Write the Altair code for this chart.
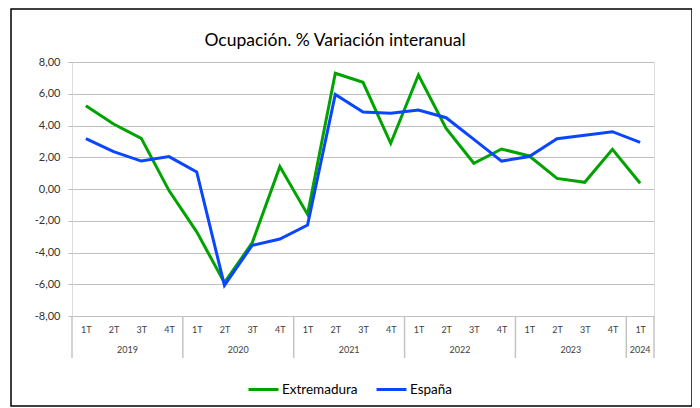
import json
import altair as alt
import pandas as pd

# ---- data ----
years = ["2019"] * 4 + ["2020"] * 4 + ["2021"] * 4 + ["2022"] * 4 + ["2023"] * 4 + ["2024"]
quarter_names = ["1T", "2T", "3T", "4T"]
quarters = (quarter_names * 6)[:21]
extremadura = [5.25, 4.09, 3.19, -0.10, -2.70, -5.90, -3.40, 1.41, -1.60, 7.29, 6.72,
               2.88, 7.18, 3.82, 1.62, 2.52, 2.08, 0.67, 0.42, 2.50, 0.36]
espana = [3.17, 2.35, 1.76, 2.04, 1.07, -6.07, -3.55, -3.15, -2.27, 5.96, 4.85,
          4.77, 4.98, 4.49, 3.13, 1.76, 2.05, 3.17, 3.38, 3.61, 2.94]
series_names = ["Extremadura", "España"]
series_colors = ["#00a300", "#0a46ff"]
y_ticks = [-8, -6, -4, -2, 0, 2, 4, 6, 8]
title_text = "Ocupación. % Variación interanual"

n = len(quarters)
rows = []
for i in range(n):
    rows.append({"pos": i + 0.5, "serie": series_names[0], "v": extremadura[i]})
    rows.append({"pos": i + 0.5, "serie": series_names[1], "v": espana[i]})
df = pd.DataFrame(rows)

# year labels and separators
year_order = []
for y in years:
    if y not in year_order:
        year_order.append(y)
year_rows = []
bounds = [0]
for y in year_order:
    idx = [i for i, yy in enumerate(years) if yy == y]
    year_rows.append({"year": y, "pos": (idx[0] + idx[-1] + 1) / 2})
    bounds.append(idx[-1] + 1)
df_years = pd.DataFrame(year_rows)
df_bounds = pd.DataFrame({"b": bounds})

W, H = 582, 254
FONT = "Lato"

xscale = alt.Scale(domain=[0, n], nice=False, zero=False)
yscale = alt.Scale(domain=[-8, 8], nice=False)
color = alt.Color("serie:N", scale=alt.Scale(domain=series_names, range=series_colors),
                  legend=alt.Legend(title=None, orient="none", direction="horizontal",
                                    legendX=175, legendY=311, symbolType="stroke",
                                    symbolSize=900, symbolStrokeWidth=3,
                                    labelFontSize=13.5, labelFont=FONT, labelColor="#000",
                                    labelOffset=2, columnPadding=12))

q_expr = json.dumps(quarter_names) + "[floor(datum.value) % 4]"

xaxis = alt.Axis(values=[i + 0.5 for i in range(n)], labelExpr=q_expr, title=None,
                 grid=False, ticks=False, domain=False, labelFontSize=9,
                 labelColor="#404040", labelFont=FONT, labelPadding=9, labelAngle=0,
                 labelOverlap=False)
yaxis = alt.Axis(values=y_ticks, title=None, grid=True, gridColor="#c0c0c0",
                 tickColor="#bfbfbf", tickSize=4, domain=False, labelFontSize=11,
                 labelColor="#333333", labelFont=FONT, labelPadding=8, labelOverlap=False,
                 labelExpr="replace(replace(format(datum.value, '.2f'), '.', ','), '\u2212', '-')")

X = lambda f: alt.X(f, scale=xscale, axis=xaxis)
Y = lambda f: alt.Y(f, scale=yscale, axis=yaxis)

base = alt.Chart(df)

line_ext = base.transform_filter(alt.datum.serie == series_names[0]).mark_line(
    strokeWidth=3).encode(x=X("pos:Q"), y=Y("v:Q"), color=color)
line_esp = base.transform_filter(alt.datum.serie == series_names[1]).mark_line(
    strokeWidth=3).encode(x=X("pos:Q"), y=Y("v:Q"), color=color)

seps = alt.Chart(df_bounds).mark_rule(color="#c4c4c4", strokeWidth=1.5).encode(
    x=X("b:Q"), y=alt.value(H), y2=alt.value(H + 42))

year_text = alt.Chart(df_years).mark_text(fontSize=9, font=FONT, color="#404040",
                                          baseline="middle").encode(
    x=X("pos:Q"), y=alt.value(H + 34), text="year:N")

one = pd.DataFrame({"t": [title_text]})
title = alt.Chart(one).mark_text(fontSize=17.5, font=FONT, color="#000",
                                 baseline="middle", align="center").encode(
    x=alt.value(263), y=alt.value(-21), text="t:N")

frame = alt.Chart(one).mark_rect(
    fill="transparent", stroke="#000", strokeWidth=1.5).encode(
    x=alt.value(-61), x2=alt.value(620), y=alt.value(-53), y2=alt.value(344))

chart = alt.layer(frame, title, seps, year_text, line_ext, line_esp).properties(
    width=W, height=H,
    autosize=alt.AutoSizeParams(type="none"),
    padding={"left": 64, "top": 54, "right": 38, "bottom": 92},
).configure_view(stroke="#bfbfbf", strokeWidth=1).configure(background="white")

chart.save("out.html", embed_options={"renderer": "svg", "actions": False})
